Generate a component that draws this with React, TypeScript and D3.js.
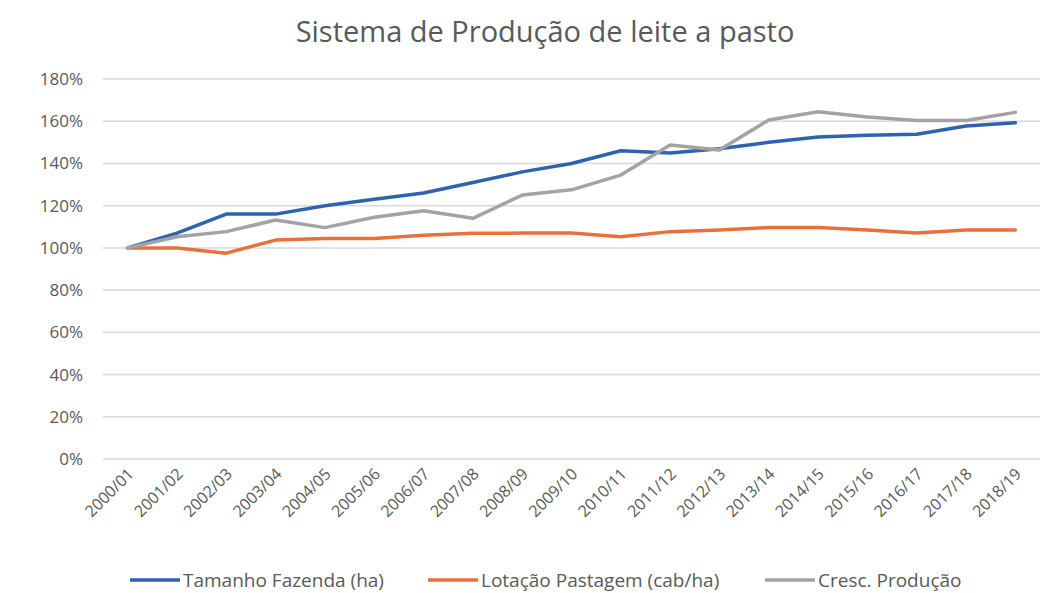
import * as d3 from "d3";
import { useEffect, useRef } from "react";

const categories = [
  "2000/01", "2001/02", "2002/03", "2003/04", "2004/05", "2005/06", "2006/07",
  "2007/08", "2008/09", "2009/10", "2010/11", "2011/12", "2012/13", "2013/14",
  "2014/15", "2015/16", "2016/17", "2017/18", "2018/19",
];

const tamanhoFazenda = [
  1.0, 1.07, 1.16, 1.16, 1.2, 1.23, 1.26, 1.31, 1.36, 1.4,
  1.46, 1.45, 1.47, 1.5, 1.525, 1.533, 1.538, 1.577, 1.593,
];
const lotacaoPastagem = [
  1.0, 1.0, 0.975, 1.037, 1.044, 1.044, 1.06, 1.069, 1.07, 1.07,
  1.053, 1.077, 1.085, 1.096, 1.096, 1.085, 1.07, 1.085, 1.085,
];
const crescProducao = [
  1.0, 1.053, 1.077, 1.132, 1.096, 1.145, 1.176, 1.14, 1.25, 1.275,
  1.345, 1.487, 1.464, 1.606, 1.645, 1.62, 1.603, 1.603, 1.642,
];

const yTicks = [0, 0.2, 0.4, 0.6, 0.8, 1.0, 1.2, 1.4, 1.6, 1.8];

const series = [
  { name: "Tamanho Fazenda (ha)", values: tamanhoFazenda, color: "#2f62b0" },
  { name: "Lotação Pastagem (cab/ha)", values: lotacaoPastagem, color: "#e8703a" },
  { name: "Cresc. Produção", values: crescProducao, color: "#a3a3a3" },
];

export default function App() {
  const ref = useRef<SVGSVGElement>(null);

  useEffect(() => {
    if (!ref.current) return;
    const svg = d3.select(ref.current);
    svg.selectAll("*").remove();

    const width = 1050;
    const height = 593;
    const font = "'Open Sans', sans-serif";
    const textColor = "#595959";

    svg.attr("width", width).attr("height", height);

    svg.append("rect").attr("width", width).attr("height", height).attr("fill", "#fff");

    const x = d3.scalePoint<string>().domain(categories).range([103, 1040]).padding(0.5);
    const y = d3.scaleLinear().domain([0, 1.8]).range([459, 79]);

    // title
    svg.append("text")
      .attr("x", 545)
      .attr("y", 42)
      .attr("text-anchor", "middle")
      .attr("fill", textColor)
      .attr("font-family", font)
      .attr("font-size", "29px")
      .text("Sistema de Produção de leite a pasto");

    // gridlines
    svg.append("g")
      .selectAll("line")
      .data(yTicks)
      .enter()
      .append("line")
      .attr("x1", 103)
      .attr("x2", 1040)
      .attr("y1", d => y(d))
      .attr("y2", d => y(d))
      .attr("stroke", "#d9d9d9")
      .attr("stroke-width", 1.5);

    // y labels
    svg.append("g")
      .selectAll("text")
      .data(yTicks)
      .enter()
      .append("text")
      .attr("x", 83)
      .attr("y", d => y(d))
      .attr("dy", "0.35em")
      .attr("text-anchor", "end")
      .attr("fill", textColor)
      .attr("font-family", font)
      .attr("font-size", "17px")
      .text(d => d3.format(".0%")(d));

    // x labels
    svg.append("g")
      .selectAll("text")
      .data(categories)
      .enter()
      .append("text")
      .attr("transform", d => `translate(${x(d)! + 7},${475}) rotate(-45)`)
      .attr("text-anchor", "end")
      .attr("fill", textColor)
      .attr("font-family", font)
      .attr("font-size", "16px")
      .text(d => d);

    const line = d3.line<number>()
      .x((_, i) => x(categories[i])!)
      .y(d => y(d));

    series.forEach(s => {
      svg.append("path")
        .datum(s.values)
        .attr("d", line)
        .attr("fill", "none")
        .attr("stroke", s.color)
        .attr("stroke-width", 3.5)
        .attr("stroke-linejoin", "round")
        .attr("stroke-linecap", "round");
    });

    // legend
    const legendX = [130, 428, 765];
    const legend = svg.append("g");
    series.forEach((s, i) => {
      const g = legend.append("g").attr("transform", `translate(${legendX[i]},580)`);
      g.append("line")
        .attr("x1", 0)
        .attr("x2", 50)
        .attr("stroke", s.color)
        .attr("stroke-width", 3.5);
      g.append("text")
        .attr("x", 53)
        .attr("dy", "0.35em")
        .attr("fill", textColor)
        .attr("font-family", font)
        .attr("font-size", "19px")
        .text(s.name);
    });
  }, []);

  return <svg ref={ref} style={{ position: "absolute", left: 0, top: 0 }} />;
}
